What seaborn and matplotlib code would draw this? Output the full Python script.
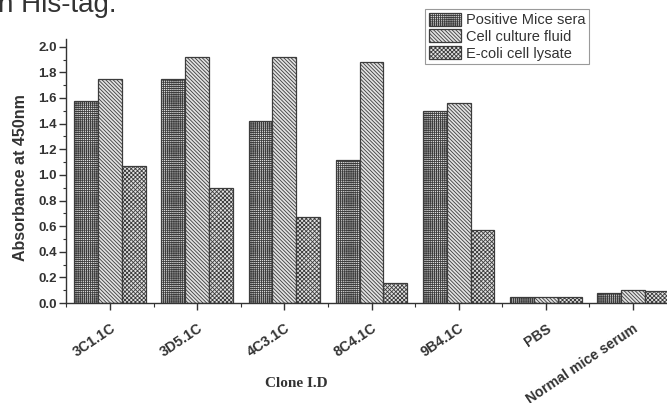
import numpy as np
import pandas as pd
import matplotlib
matplotlib.use("Agg")
import matplotlib.pyplot as plt
from matplotlib.ticker import MultipleLocator, FixedLocator, FormatStrFormatter
import seaborn as sns

# ELISA absorbance readings per clone
clones = ["3C1.1C", "3D5.1C", "4C3.1C", "8C4.1C", "9B4.1C", "PBS", "Normal mice serum"]
series = ["Positive Mice sera", "Cell culture fluid", "E-coli cell lysate"]
positive_mice_sera = [1.58, 1.75, 1.42, 1.12, 1.50, 0.05, 0.08]
cell_culture_fluid = [1.75, 1.92, 1.92, 1.88, 1.56, 0.05, 0.10]
ecoli_cell_lysate = [1.07, 0.90, 0.67, 0.16, 0.57, 0.05, 0.09]

df = pd.DataFrame({
    "clone": clones * 3,
    "sample": [series[0]] * len(clones) + [series[1]] * len(clones) + [series[2]] * len(clones),
    "absorbance": positive_mice_sera + cell_culture_fluid + ecoli_cell_lysate,
})

sns.set_theme(style="ticks")
plt.rcParams["font.family"] = ["Liberation Sans", "DejaVu Sans"]
plt.rcParams["hatch.linewidth"] = 0.6

fig = plt.figure(figsize=(6.67, 4.03), dpi=100)
ax = fig.add_axes([0.0996, 0.2481, 0.9148, 0.655])

sns.barplot(data=df, x="clone", y="absorbance", hue="sample",
            order=clones, hue_order=series, width=0.82,
            palette=["#e2e2e2"] * 3, saturation=1, errorbar=None,
            legend=False, ax=ax)

hatches = ["++++++++", "\\" * 9, "xxxxxxxx"]
for cont, h in zip(ax.containers, hatches):
    for p in cont.patches:
        p.set_hatch(h)
        p.set_edgecolor("#3c3c3c")
        if hasattr(p, "set_hatchcolor"):
            p.set_hatchcolor("#6a6a6a")
        p.set_linewidth(0.9)

# axes styling: left and bottom spines only
sns.despine(ax=ax)
for s in ("left", "bottom"):
    ax.spines[s].set_color("#333333")
    ax.spines[s].set_linewidth(1.0)

ax.set_xlim(-0.5, 6.5)
ax.set_ylim(0, 2.06)
ax.yaxis.set_major_locator(MultipleLocator(0.2))
ax.yaxis.set_minor_locator(MultipleLocator(0.1))
ax.yaxis.set_major_formatter(FormatStrFormatter("%.1f"))
ax.xaxis.set_minor_locator(FixedLocator(np.arange(-0.5, 7, 1.0)))

ax.tick_params(axis="y", which="major", direction="out", length=5, width=1,
               pad=2, labelsize=9.5, colors="#333333", labelcolor="#333333")
ax.tick_params(axis="y", which="minor", direction="out", length=2.5, width=0.8,
               colors="#333333")
ax.tick_params(axis="x", which="major", direction="out", length=5, width=1,
               pad=8, labelsize=10.2, colors="#333333", labelcolor="#333333")
ax.tick_params(axis="x", which="minor", direction="out", length=3, width=0.8,
               colors="#333333")

for lbl in ax.get_yticklabels():
    lbl.set_fontweight("bold")
for lbl in ax.get_xticklabels():
    lbl.set_fontweight("bold")
    lbl.set_rotation(34)
    lbl.set_ha("right")
    lbl.set_va("top")
    lbl.set_rotation_mode("anchor")

ax.set_ylabel("Absorbance at 450nm", fontsize=11.5, fontweight="bold",
              color="#333333")
ax.yaxis.set_label_coords(-0.0625, 0.477)
ax.set_xlabel("Clone I.D", fontsize=11, fontweight="bold",
              family=["Liberation Serif", "DejaVu Serif"], color="#333333")
ax.xaxis.set_label_coords(0.376, -0.28)

leg = ax.legend(handles=[c.patches[0] for c in ax.containers], labels=series,
                loc="upper left", bbox_to_anchor=(425 / 667, 1 - 9 / 403),
                bbox_transform=fig.transFigure, fontsize=10.5, frameon=True,
                fancybox=False, edgecolor="#9a9a9a", framealpha=1,
                borderpad=0.25, labelspacing=0.15, handlelength=2.2,
                handleheight=1.0, handletextpad=0.35, borderaxespad=0)
leg.get_frame().set_linewidth(0.8)
for t in leg.get_texts():
    t.set_color("#333333")

# running caption text above the figure
fig.text(-0.003, 1 - 12 / 403, "n His-tag.", fontsize=20, va="baseline",
         ha="left", color="#333333")

fig.savefig("out.png", dpi=100)
